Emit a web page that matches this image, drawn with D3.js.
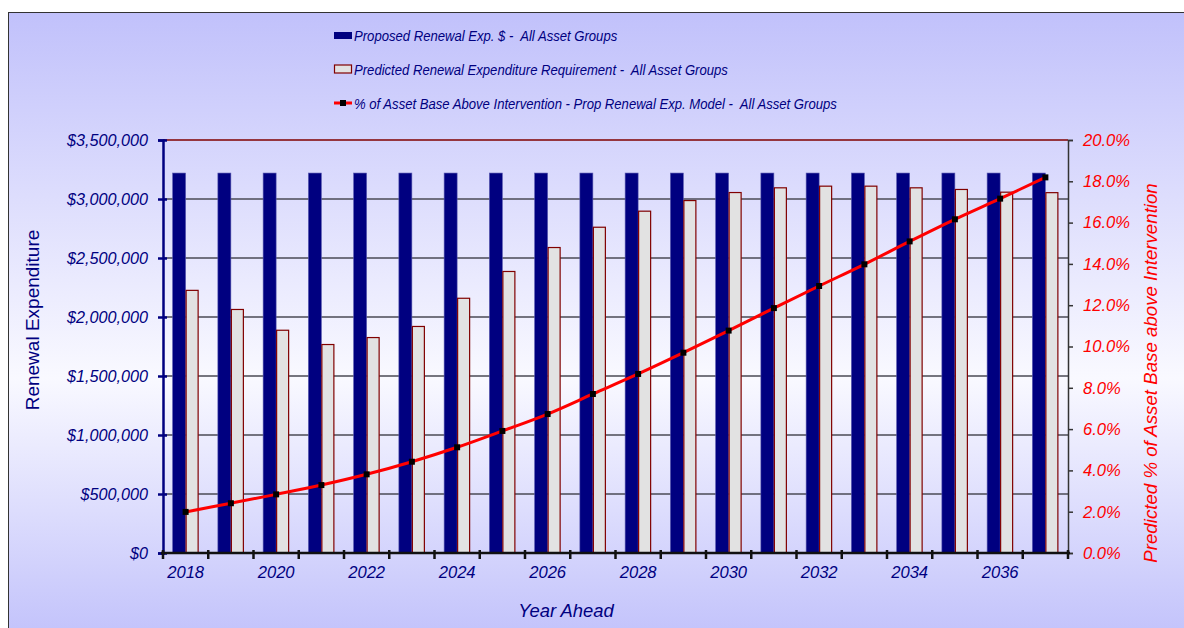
<!DOCTYPE html>
<html>
<head>
<meta charset="utf-8">
<script src="https://cdn.jsdelivr.net/npm/d3@7"></script>
<style>
  html, body { margin: 0; padding: 0; background: #fff; overflow: hidden; }
  svg { display: block; font-family: 'Liberation Sans', Arial, sans-serif; }
</style>
</head>
<body>
<svg width="1184" height="628"></svg>
<script>
const years = d3.range(2018, 2038);
const proposed = [3220000, 3220000, 3220000, 3220000, 3220000, 3220000, 3220000, 3220000, 3220000, 3220000,
                  3220000, 3220000, 3220000, 3220000, 3220000, 3220000, 3220000, 3220000, 3220000, 3220000];
const predicted = [2230000, 2068000, 1892000, 1771000, 1830000, 1924000, 2163000, 2390000, 2593000, 2765000,
                   2901000, 2991000, 3059000, 3099000, 3113000, 3113000, 3099000, 3085000, 3062000, 3058000];
const pctAbove = [1.99, 2.41, 2.84, 3.29, 3.81, 4.42, 5.12, 5.91, 6.73, 7.70,
                  8.67, 9.70, 10.77, 11.86, 12.93, 13.98, 15.09, 16.16, 17.16, 18.19];
const yearLabels = years.filter((d, i) => i % 2 === 0);
const legendLabels = [
    'Proposed Renewal Exp. $ -  All Asset Groups',
    'Predicted Renewal Expenditure Requirement -  All Asset Groups',
    '% of Asset Base Above Intervention - Prop Renewal Exp. Model -  All Asset Groups'
];

const navy = '#000080';
const red = '#ff0000';
const darkRed = '#800000';
const fontFam = "'Liberation Sans', Arial, sans-serif";

const svg = d3.select('svg');

// background with soft vertical gradient
const defs = svg.append('defs');
const grad = defs.append('linearGradient')
    .attr('id', 'bg').attr('x1', 0).attr('y1', 0).attr('x2', 0).attr('y2', 1);
grad.append('stop').attr('offset', '0%').attr('stop-color', '#c1c1fb');
grad.append('stop').attr('offset', '58%').attr('stop-color', '#f9f9ff');
grad.append('stop').attr('offset', '100%').attr('stop-color', '#c1c1fb');

svg.append('rect')
    .attr('x', 8.5).attr('y', 12.5)
    .attr('width', 1190).attr('height', 630)
    .attr('fill', 'url(#bg)')
    .attr('stroke', '#333').attr('stroke-width', 1);

const plotLeft = 163, plotRight = 1068, plotTop = 140, plotBottom = 553;

const x = d3.scaleBand().domain(years).range([plotLeft, plotRight]).padding(0);
const xInner = d3.scaleBand().domain(['proposed', 'predicted'])
    .range([0, x.bandwidth()]).paddingInner(0).paddingOuter(0.74);
const y = d3.scaleLinear().domain([0, 3500000]).range([plotBottom, plotTop]);
const y2 = d3.scaleLinear().domain([0, 20]).range([plotBottom, plotTop]);

// gridlines
svg.append('g')
    .selectAll('line')
    .data(d3.range(500000, 3500000, 500000))
    .join('line')
    .attr('x1', plotLeft).attr('x2', plotRight)
    .attr('y1', d => y(d)).attr('y2', d => y(d))
    .attr('stroke', '#4a4a55').attr('stroke-width', 1.6);

// top border of plot
svg.append('line')
    .attr('x1', plotLeft).attr('x2', plotRight)
    .attr('y1', plotTop).attr('y2', plotTop)
    .attr('stroke', darkRed).attr('stroke-width', 1.5);

// bars
svg.append('g')
    .selectAll('rect')
    .data(years)
    .join('rect')
    .attr('x', d => x(d) + xInner('proposed'))
    .attr('width', xInner.bandwidth())
    .attr('y', (d, i) => y(proposed[i]))
    .attr('height', (d, i) => y(0) - y(proposed[i]))
    .attr('fill', navy)
    .attr('stroke', '#5a5ab0').attr('stroke-width', 0.6);

svg.append('g')
    .selectAll('rect')
    .data(years)
    .join('rect')
    .attr('x', d => x(d) + xInner('predicted') + 0.5)
    .attr('width', xInner.bandwidth() - 1)
    .attr('y', (d, i) => y(predicted[i]) + 0.5)
    .attr('height', (d, i) => y(0) - y(predicted[i]) - 0.5)
    .attr('fill', '#e2e2e2')
    .attr('stroke', darkRed).attr('stroke-width', 1.2);

// percentage line
const line = d3.line()
    .x((d, i) => x(years[i]) + x.bandwidth() / 2)
    .y(d => y2(d))
    .curve(d3.curveCatmullRom);

svg.append('path')
    .datum(pctAbove)
    .attr('d', line)
    .attr('fill', 'none')
    .attr('stroke', red)
    .attr('stroke-width', 3);

svg.append('g')
    .selectAll('rect')
    .data(pctAbove)
    .join('rect')
    .attr('x', (d, i) => x(years[i]) + x.bandwidth() / 2 - 3)
    .attr('y', d => y2(d) - 3)
    .attr('width', 6).attr('height', 6)
    .attr('fill', '#000');

// left axis
const yAxis = svg.append('g')
    .attr('transform', `translate(${plotLeft},0)`)
    .call(d3.axisLeft(y).tickValues(d3.range(0, 3500001, 500000))
        .tickSize(5).tickPadding(10)
        .tickFormat(d => '$' + d3.format(',')(d)));
yAxis.select('.domain').attr('stroke', navy).attr('stroke-width', 2.5);
yAxis.selectAll('.tick line').attr('stroke', navy).attr('stroke-width', 2.5).attr('x2', 4).attr('x1', -5);
yAxis.selectAll('.tick text')
    .attr('fill', navy).attr('font-size', 16.2).attr('font-style', 'italic')
    .attr('font-family', fontFam);

// right axis
const y2Axis = svg.append('g')
    .attr('transform', `translate(${plotRight},0)`)
    .call(d3.axisRight(y2).tickValues(d3.range(0, 20.1, 2))
        .tickSize(5).tickPadding(10)
        .tickFormat(d => d3.format('.1f')(d) + '%'));
y2Axis.select('.domain').attr('stroke', '#333').attr('stroke-width', 1.5);
y2Axis.selectAll('.tick line').attr('stroke', '#333').attr('stroke-width', 1.5);
y2Axis.selectAll('.tick text')
    .attr('fill', red).attr('font-size', 16.6).attr('font-style', 'italic')
    .attr('font-family', fontFam);

// bottom axis
const xAxis = svg.append('g')
    .attr('transform', `translate(0,${plotBottom})`)
    .call(d3.axisBottom(x).tickValues(yearLabels).tickSize(0).tickPadding(13));
xAxis.select('.domain').remove();
xAxis.selectAll('.tick line').remove();
xAxis.selectAll('.tick text')
    .attr('fill', navy).attr('font-size', 16.6).attr('font-style', 'italic')
    .attr('font-family', fontFam);

svg.append('line')
    .attr('x1', plotLeft - 2).attr('x2', plotRight + 2)
    .attr('y1', plotBottom).attr('y2', plotBottom)
    .attr('stroke', '#111').attr('stroke-width', 2.5);
svg.append('g')
    .selectAll('line')
    .data(years.concat([null]))
    .join('line')
    .attr('x1', d => d === null ? plotRight : x(d))
    .attr('x2', d => d === null ? plotRight : x(d))
    .attr('y1', plotBottom - 3).attr('y2', plotBottom + 6)
    .attr('stroke', '#111').attr('stroke-width', 2.5);

// axis titles
svg.append('text')
    .text('Renewal Expenditure')
    .attr('transform', 'translate(39,320) rotate(-90)')
    .attr('text-anchor', 'middle')
    .attr('fill', navy).attr('font-size', 19);

svg.append('text')
    .text('Predicted % of Asset Base above Intervention')
    .attr('transform', 'translate(1157,373) rotate(-90)')
    .attr('text-anchor', 'middle')
    .attr('fill', red).attr('font-size', 18.7).attr('font-style', 'italic');

svg.append('text')
    .text('Year Ahead')
    .attr('x', 566).attr('y', 617)
    .attr('text-anchor', 'middle')
    .attr('fill', navy).attr('font-size', 18.4).attr('font-style', 'italic');

// legend
const legend = svg.append('g').attr('transform', 'translate(334,0)');
const rowY = [35, 69, 103];
legend.append('rect').attr('x', 0).attr('y', rowY[0] - 3).attr('width', 18).attr('height', 7).attr('fill', navy);
legend.append('rect').attr('x', 0.5).attr('y', rowY[1] - 4).attr('width', 17).attr('height', 8)
    .attr('fill', '#e2e2e2').attr('stroke', darkRed).attr('stroke-width', 1.2);
legend.append('line').attr('x1', 0).attr('x2', 18).attr('y1', rowY[2]).attr('y2', rowY[2])
    .attr('stroke', red).attr('stroke-width', 3);
legend.append('rect').attr('x', 6).attr('y', rowY[2] - 3).attr('width', 6).attr('height', 6).attr('fill', '#000');
legend.selectAll('text.leg')
    .data(legendLabels)
    .join('text')
    .attr('class', 'leg')
    .text(d => d)
    .attr('transform', (d, i) => `translate(20,${rowY[i] + 5.5}) scale(0.88,1)`)
    .style('white-space', 'pre')
    .attr('fill', navy).attr('font-size', 14.9).attr('font-style', 'italic');
</script>
</body>
</html>
